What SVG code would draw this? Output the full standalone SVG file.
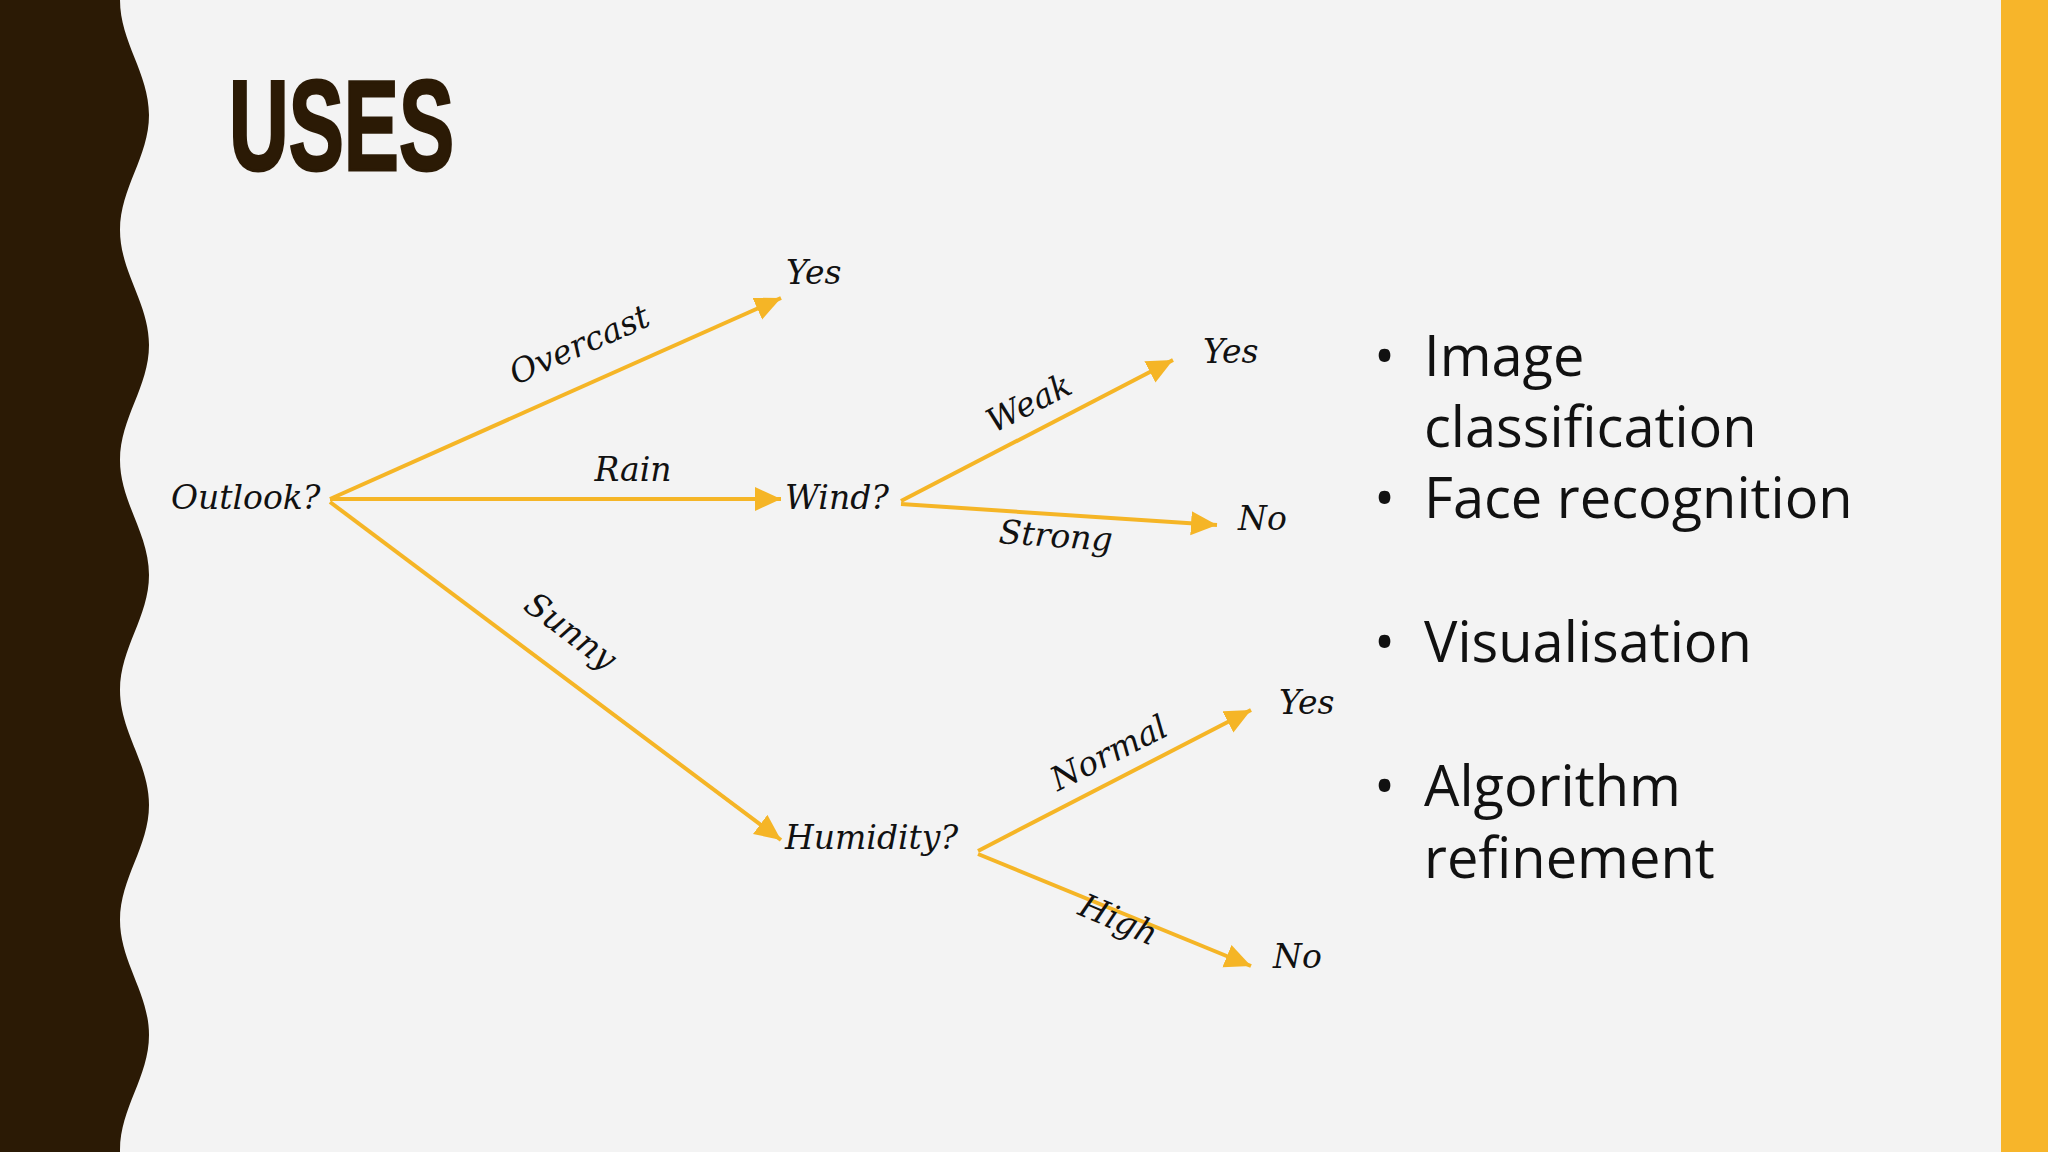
<svg xmlns="http://www.w3.org/2000/svg" width="2048" height="1152" viewBox="0 0 2048 1152">
<style>
.t{font-family:"DejaVu Serif","Liberation Serif",serif;font-style:italic;font-size:33px;fill:#111}
.b{font-family:"Open Sans","Noto Sans",sans-serif;font-size:56px;fill:#111}
.c{stroke:#f5b526;stroke-width:4;fill:none;marker-end:url(#ah)}
</style>
<defs>
<marker id="ah" markerUnits="userSpaceOnUse" markerWidth="30" markerHeight="26" refX="26" refY="12" orient="auto">
<path d="M0 0 L26 12 L0 24 Z" fill="#f5b526"/>
</marker>
</defs>
<rect width="2048" height="1152" fill="#f3f3f3"/>
<path d="M0 0 H120 C120 42 149 73 149 115 C149 157 120 188 120 230 C120 272 149 303 149 345 C149 387 120 418 120 460 C120 502 149 533 149 575 C149 617 120 648 120 690 C120 732 149 763 149 805 C149 847 120 878 120 920 C120 962 149 993 149 1035 C149 1077 120 1108 120 1150 L120 1152 H0 Z" fill="#2b1a05"/>
<rect x="2001" y="0" width="47" height="1152" fill="#f7b52a"/>
<text x="229" y="170" font-family="Liberation Sans,sans-serif" font-weight="bold" font-size="128" fill="#2b1a05" stroke="#2b1a05" stroke-width="3" textLength="225" lengthAdjust="spacingAndGlyphs">USES</text>
<g id="connectors">
<line class="c" x1="330" y1="499" x2="781" y2="298"/>
<line class="c" x1="330" y1="499" x2="781" y2="499"/>
<line class="c" x1="330" y1="502" x2="781" y2="840"/>
<line class="c" x1="901" y1="501" x2="1173" y2="360"/>
<line class="c" x1="901" y1="504" x2="1217" y2="525"/>
<line class="c" x1="978" y1="851" x2="1251" y2="710"/>
<line class="c" x1="978" y1="854" x2="1251" y2="966"/>
<text class="t" text-anchor="middle" transform="translate(584,355) rotate(-24)">Overcast</text>
<text class="t" text-anchor="middle" x="633" y="481">Rain</text>
<text class="t" text-anchor="middle" transform="translate(564,640) rotate(37)">Sunny</text>
<text class="t" text-anchor="middle" transform="translate(1034,413) rotate(-27)">Weak</text>
<text class="t" text-anchor="middle" transform="translate(1055,547) rotate(4)">Strong</text>
<text class="t" text-anchor="middle" transform="translate(1114,763) rotate(-27)">Normal</text>
<text class="t" text-anchor="middle" transform="translate(1114,930) rotate(23)">High</text>
</g>
<g id="outlook"><text class="t" x="171" y="509">Outlook?</text></g>
<g id="yes1"><text class="t" x="786" y="284">Yes</text></g>
<g id="wind"><text class="t" x="785" y="509">Wind?</text></g>
<g id="humidity"><text class="t" x="785" y="849">Humidity?</text></g>
<g id="yes2"><text class="t" x="1203" y="363">Yes</text></g>
<g id="no1"><text class="t" x="1238" y="530">No</text></g>
<g id="yes3"><text class="t" x="1279" y="714">Yes</text></g>
<g id="no2"><text class="t" x="1273" y="968">No</text></g>
<g id="bullets">
<text class="b" x="1374" y="376">•</text><text class="b" x="1424" y="376">Image</text>
<text class="b" x="1424" y="447">classification</text>
<text class="b" x="1374" y="518">•</text><text class="b" x="1424" y="518">Face recognition</text>
<text class="b" x="1374" y="662">•</text><text class="b" x="1424" y="662">Visualisation</text>
<text class="b" x="1374" y="806">•</text><text class="b" x="1424" y="806">Algorithm</text>
<text class="b" x="1424" y="878">refinement</text>
</g>
</svg>
